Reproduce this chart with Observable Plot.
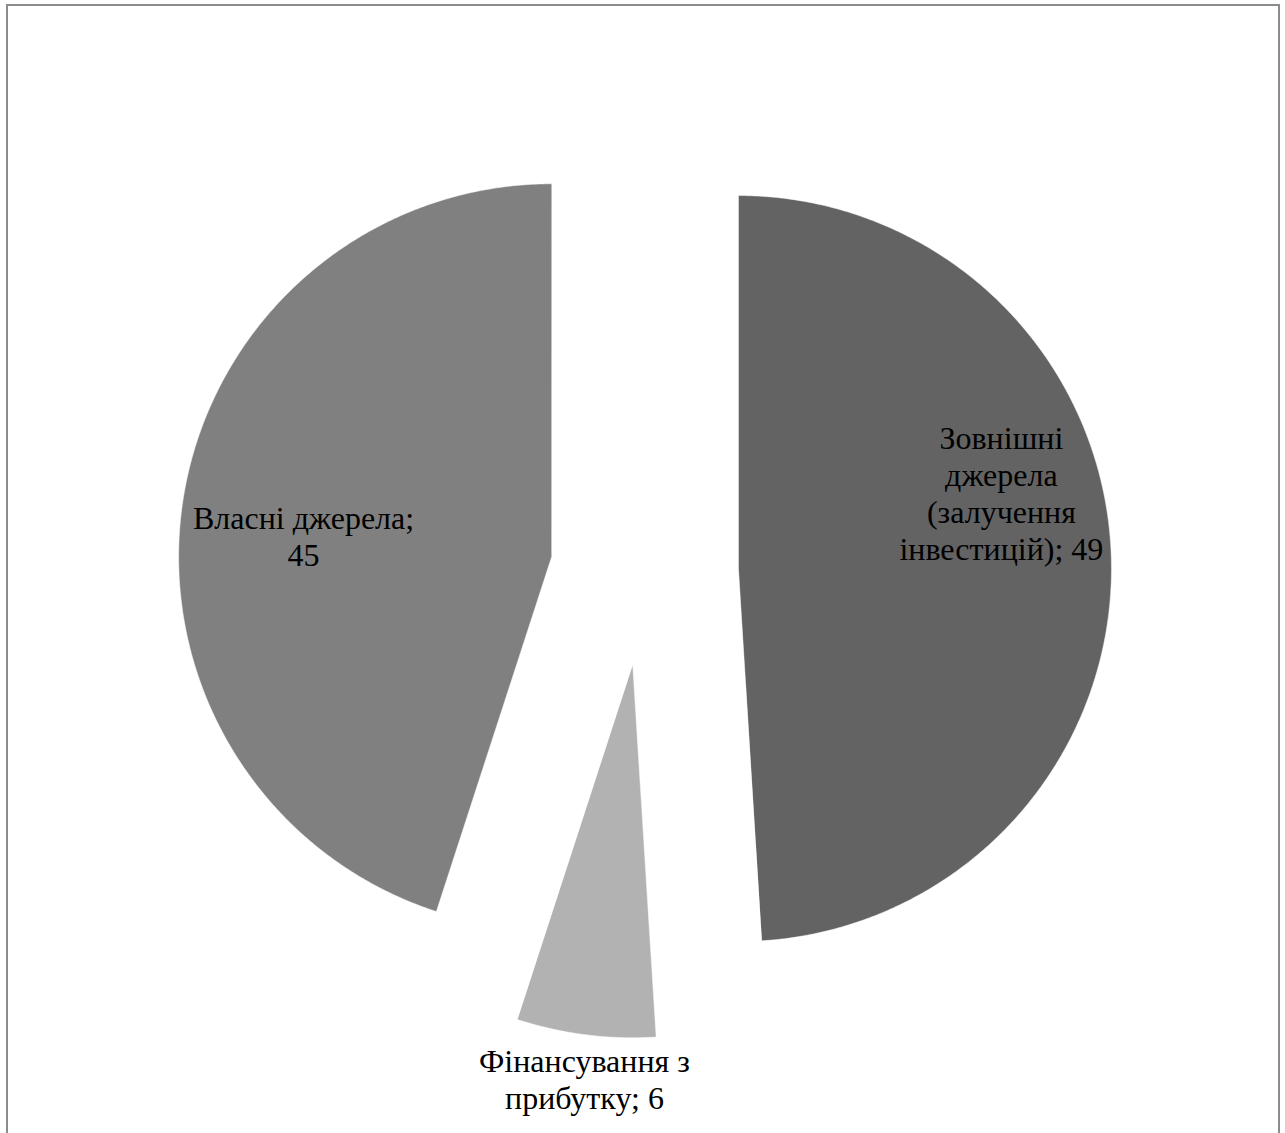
<!DOCTYPE html>
<html>
<head>
<meta charset="utf-8">
<script src="https://cdn.jsdelivr.net/npm/d3@7"></script>
<script src="https://cdn.jsdelivr.net/npm/@observablehq/plot@0.6"></script>
<style>
  html, body { margin: 0; padding: 0; background: #fff; font-family: "Liberation Serif", serif; }
  #frame { position: absolute; left: 6px; top: 4px; width: 1274px; height: 1200px;
           border: 2px solid #8c8c8c; box-sizing: border-box; pointer-events: none; }
  #chart { position: absolute; left: 0; top: 0; }
</style>
</head>
<body>
<div id="chart"></div><div id="frame"></div>
<script>
// Structure of funding sources, %
const categories = [
  "Зовнішні джерела (залучення інвестицій)",
  "Фінансування з прибутку",
  "Власні джерела"
];
const values = [49, 6, 45];
const labelLines = [
  "Зовнішні\nджерела\n(залучення\nінвестицій); 49",
  "Фінансування з\nприбутку; 6",
  "Власні джерела;\n45"
];
const colors = ["#636363", "#b2b2b2", "#808080"];

// Label anchors: angle (degrees clockwise from 12 o'clock) and distance in radii
const labelAngle = [77.5, 186.75, 276];
const labelDist = [0.98, 1.369, 0.919];

// Layout (pixels): pie centre, radius, explosion distance
const W = 1285, H = 1133;
const CX = 644, CY = 571, R = 373, EXPLODE = 94;

const pie = d3.pie().sort(null).value(d => d)(values);
const off = EXPLODE / R;

// Slice outlines in radius units (y grows downward)
const slicePoints = [];
pie.forEach((a, i) => {
  const mid = (a.startAngle + a.endAngle) / 2;
  const ox = off * Math.sin(mid), oy = -off * Math.cos(mid);
  const name = categories[i];
  slicePoints.push({name, x: ox, y: oy});
  const steps = Math.max(2, Math.ceil((a.endAngle - a.startAngle) / (Math.PI / 360)));
  for (let k = 0; k <= steps; k++) {
    const t = a.startAngle + (a.endAngle - a.startAngle) * k / steps;
    slicePoints.push({name, x: ox + Math.sin(t), y: oy - Math.cos(t)});
  }
});

const labels = categories.map((name, i) => {
  const t = labelAngle[i] * Math.PI / 180;
  return {name, text: labelLines[i], x: labelDist[i] * Math.sin(t), y: -labelDist[i] * Math.cos(t)};
});

const chart = Plot.plot({
  width: W,
  height: H,
  margin: 0,
  style: {fontFamily: "Liberation Serif"},
  x: {domain: [-CX / R, (W - CX) / R], range: [0, W], axis: null},
  y: {domain: [-CY / R, (H - CY) / R], range: [0, H], axis: null},
  color: {domain: categories, range: colors},
  marks: [
    Plot.line(slicePoints, {
      x: "x", y: "y", z: "name", fill: "name",
      stroke: "#ffffff", strokeWidth: 0.8, strokeOpacity: 0.6,
      curve: "linear-closed"
    }),
    Plot.text(labels, {
      x: "x", y: "y", text: "text",
      fontFamily: "Liberation Serif",
      fontSize: 32, lineHeight: 1.16,
      textAnchor: "middle", lineAnchor: "middle"
    })
  ]
});
d3.select(chart).selectAll("text, tspan").style("font-family", "'Liberation Serif', serif");
document.getElementById("chart").append(chart);
</script>
</body>
</html>
